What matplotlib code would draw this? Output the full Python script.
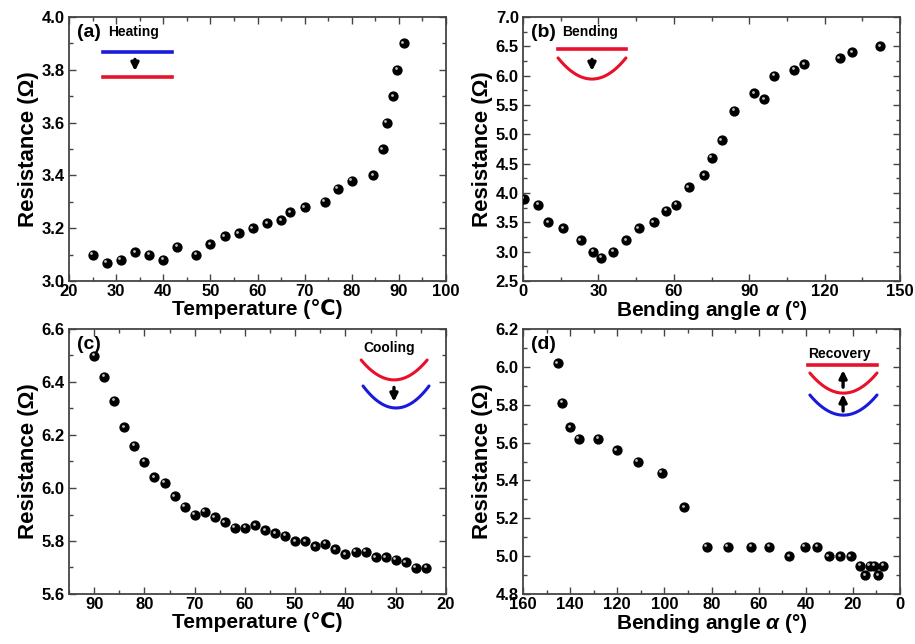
import matplotlib
matplotlib.use("Agg")
import matplotlib.pyplot as plt
import matplotlib.transforms as mtransforms
import numpy as np
from matplotlib.ticker import MultipleLocator, AutoMinorLocator

plt.rcParams['font.family'] = ['Liberation Sans', 'DejaVu Sans']
plt.rcParams['font.weight'] = 'bold'
plt.rcParams['mathtext.fontset'] = 'custom'
plt.rcParams['mathtext.it'] = 'Liberation Sans:italic:bold'
plt.rcParams['mathtext.rm'] = 'Liberation Sans:bold'

# (a) heating
heat_t = [25, 28, 31, 34, 37, 40, 43, 47, 50, 53, 56, 59, 62, 65, 67, 70,
          74.3, 77, 80, 84.6, 86.6, 87.4, 88.8, 89.6, 91]
heat_r = [3.10, 3.07, 3.08, 3.11, 3.10, 3.08, 3.13, 3.10, 3.14, 3.17, 3.18,
          3.20, 3.22, 3.23, 3.26, 3.28, 3.30, 3.35, 3.38, 3.40, 3.50, 3.60,
          3.70, 3.80, 3.90]

# (b) bending
bend_a = [0.3, 6, 10, 16, 23, 28, 31, 36, 41, 46, 52, 57, 61, 66, 72, 75,
          79, 84, 92, 96, 100, 108, 112, 126, 131, 142]
bend_r = [3.9, 3.8, 3.5, 3.4, 3.2, 3.0, 2.9, 3.0, 3.2, 3.4, 3.5, 3.7, 3.8,
          4.1, 4.3, 4.6, 4.9, 5.4, 5.7, 5.6, 6.0, 6.1, 6.2, 6.3, 6.4, 6.5]

# (c) cooling
cool_t = [90, 88, 86, 84, 82, 80, 78, 76, 74, 72, 70, 68, 66, 64, 62, 60,
          58, 56, 54, 52, 50, 48, 46, 44, 42, 40, 38, 36, 34, 32, 30, 28,
          26, 24]
cool_r = [6.50, 6.42, 6.33, 6.23, 6.16, 6.10, 6.04, 6.02, 5.97, 5.93, 5.90,
          5.91, 5.89, 5.87, 5.85, 5.85, 5.86, 5.84, 5.83, 5.82, 5.80, 5.80,
          5.78, 5.79, 5.77, 5.75, 5.76, 5.76, 5.74, 5.74, 5.73, 5.72, 5.70,
          5.70]

# (d) recovery
rec_a = [145.2, 143.3, 140.1, 136.3, 128.2, 120.2, 111.4, 101.2, 91.6, 82.1,
         73.1, 63.2, 55.4, 47, 40.5, 35.1, 30.3, 25.3, 20.9, 17, 14.9, 12.8,
         10.9, 9.2, 7.1]
rec_r = [6.02, 5.81, 5.68, 5.62, 5.62, 5.56, 5.50, 5.44, 5.26, 5.05, 5.05,
         5.05, 5.05, 5.00, 5.05, 5.05, 5.00, 5.00, 5.00, 4.95, 4.90, 4.95,
         4.95, 4.90, 4.95]

temp_label = 'Temperature (℃)'
angle_label = r'Bending angle $\alpha$ (°)'
res_label = 'Resistance (Ω)'

fig = plt.figure(figsize=(9.15, 6.44), dpi=100)
W, H = 915, 644


def add_ax(x0, y0, x1, y1):
    return fig.add_axes([x0 / W, 1 - y1 / H, (x1 - x0) / W, (y1 - y0) / H])


def style(ax, xlim, ylim, xmaj, ymaj, xlab):
    ax.set_xlim(*xlim)
    ax.set_ylim(*ylim)
    ax.xaxis.set_major_locator(MultipleLocator(xmaj))
    ax.yaxis.set_major_locator(MultipleLocator(ymaj))
    ax.xaxis.set_minor_locator(AutoMinorLocator(2))
    ax.yaxis.set_minor_locator(AutoMinorLocator(2))
    ax.tick_params(which='both', direction='in', top=True, right=True,
                   color='#444444', width=1.0)
    ax.tick_params(which='major', length=5, labelsize=12, pad=2)
    ax.tick_params(axis='y', which='major', pad=3)
    ax.tick_params(which='minor', length=3)
    for lab in ax.get_xticklabels() + ax.get_yticklabels():
        lab.set_fontweight('bold')
    for s in ax.spines.values():
        s.set_linewidth(1.3)
        s.set_color('#444444')
    ax.set_xlabel(xlab, fontsize=15, fontweight='bold', labelpad=0)
    ax.set_ylabel(res_label, fontsize=16, fontweight='bold', labelpad=2)


def balls(ax, x, y):
    ax.plot(x, y, 'o', ms=6.4, color='black', mec='black', zorder=3)
    hl = mtransforms.offset_copy(ax.transData, fig=fig, x=-1.0, y=1.0,
                                 units='points')
    ax.plot(x, y, 'o', ms=2.0, color='#c0c0c0', mec='none', zorder=4,
            transform=hl)


def arc(ax, x0, x1, ytop, ybot, color):
    t = np.linspace(-1, 1, 50)
    xs = (x0 + x1) / 2 + t * (x1 - x0) / 2
    ys = ybot + (ytop - ybot) * t ** 2
    ax.plot(xs, ys, color=color, lw=2.2, transform=ax.transAxes,
            solid_capstyle='round')


def arrow(ax, x, y0, y1):
    ax.annotate('', xy=(x, y1), xytext=(x, y0), xycoords='axes fraction',
                arrowprops=dict(arrowstyle='-|>', color='black', lw=2.4,
                                mutation_scale=11))


# (a)
ax = add_ax(69, 17, 446, 281)
balls(ax, heat_t, heat_r)
style(ax, (20, 100), (3.0, 4.0), 10, 0.2, temp_label)
ax.text(0.02, 0.94, '(a)', transform=ax.transAxes, fontsize=14,
        fontweight='bold', va='center')
ax.text(0.103, 0.945, 'Heating', transform=ax.transAxes, fontsize=10,
        fontweight='bold', va='center')
ax.plot([0.09, 0.273], [0.867, 0.867], color='#1a1adc', lw=2.6,
        transform=ax.transAxes)
ax.plot([0.09, 0.273], [0.773, 0.773], color='#e8102a', lw=2.6,
        transform=ax.transAxes)
arrow(ax, 0.175, 0.85, 0.785)

# (b)
ax = add_ax(523, 17, 900, 281)
balls(ax, bend_a, bend_r)
style(ax, (0, 150), (2.5, 7.0), 30, 0.5, angle_label)
ax.text(0.02, 0.94, '(b)', transform=ax.transAxes, fontsize=14,
        fontweight='bold', va='center')
ax.text(0.103, 0.945, 'Bending', transform=ax.transAxes, fontsize=10,
        fontweight='bold', va='center')
ax.plot([0.093, 0.273], [0.879, 0.879], color='#e8102a', lw=2.6,
        transform=ax.transAxes)
arc(ax, 0.093, 0.273, 0.845, 0.765, '#e8102a')
arrow(ax, 0.183, 0.85, 0.785)

# (c)
ax = add_ax(69, 329, 446, 594)
balls(ax, cool_t, cool_r)
style(ax, (95, 20), (5.6, 6.6), 10, 0.2, temp_label)
ax.text(0.02, 0.94, '(c)', transform=ax.transAxes, fontsize=14,
        fontweight='bold', va='center')
ax.text(0.849, 0.928, 'Cooling', transform=ax.transAxes, fontsize=10,
        fontweight='bold', va='center', ha='center')
arc(ax, 0.775, 0.95, 0.883, 0.808, '#e8102a')
arc(ax, 0.78, 0.955, 0.785, 0.702, '#1a1adc')
arrow(ax, 0.862, 0.79, 0.715)

# (d)
ax = add_ax(523, 329, 900, 594)
balls(ax, rec_a, rec_r)
style(ax, (160, 0), (4.8, 6.2), 20, 0.2, angle_label)
ax.text(0.02, 0.94, '(d)', transform=ax.transAxes, fontsize=14,
        fontweight='bold', va='center')
ax.text(0.838, 0.905, 'Recovery', transform=ax.transAxes, fontsize=10,
        fontweight='bold', va='center', ha='center')
ax.plot([0.756, 0.939], [0.864, 0.864], color='#e8102a', lw=2.6,
        transform=ax.transAxes)
arc(ax, 0.761, 0.939, 0.834, 0.758, '#e8102a')
arc(ax, 0.761, 0.939, 0.751, 0.675, '#1a1adc')
arrow(ax, 0.849, 0.77, 0.855)
arrow(ax, 0.849, 0.68, 0.765)

fig.savefig('out.png', dpi=100)
